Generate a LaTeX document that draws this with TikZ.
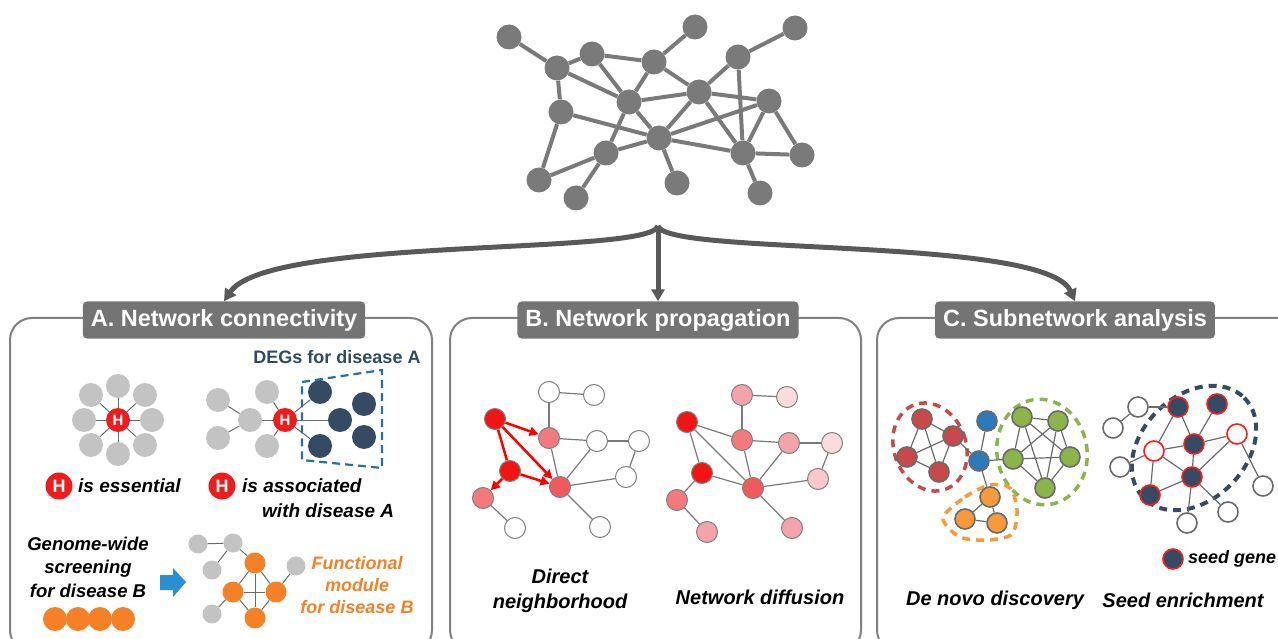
\documentclass[tikz,border=0pt]{standalone}
\usepackage{fontspec}
\setmainfont{Liberation Sans}
\usetikzlibrary{arrows.meta}
\definecolor{netgray}{HTML}{7A7A7A}
\definecolor{branchgray}{HTML}{595959}
\definecolor{framegray}{HTML}{808080}
\definecolor{titlegray}{HTML}{747474}
\definecolor{satgray}{HTML}{C3C3C3}
\definecolor{linkgray}{HTML}{6A6A6A}
\definecolor{navy}{HTML}{344B63}
\definecolor{hubred}{HTML}{EE1C1C}
\definecolor{degblue}{HTML}{2372A3}
\definecolor{degtext}{HTML}{2E4A66}
\definecolor{modorange}{HTML}{F58025}
\definecolor{arrowblue}{HTML}{2A8FD0}
\definecolor{pr1}{HTML}{F01414}
\definecolor{pr2}{HTML}{F05A5A}
\definecolor{pr3}{HTML}{F27A7C}
\definecolor{pr4}{HTML}{F4A3A8}
\definecolor{pr5}{HTML}{F7C8CC}
\definecolor{pr6}{HTML}{FADCDE}
\definecolor{clred}{HTML}{C9494B}
\definecolor{clblue}{HTML}{2B7BBA}
\definecolor{clgreen}{HTML}{8BB54A}
\definecolor{clorange}{HTML}{F59B3C}
\definecolor{seedred}{HTML}{FF1A1A}
\tikzset{
  net/.style={circle, fill=netgray, minimum size=25pt, inner sep=0pt},
  netlink/.style={draw=netgray, line width=4pt},
  branch/.style={draw=branchgray, line width=5pt, -{Triangle[length=12pt,width=13pt]}},
  panel/.style={draw=framegray, line width=2pt, rounded corners=22pt},
  ptitle/.style={fill=titlegray, rounded corners=4pt, text=white, inner xsep=8pt,
    minimum height=37pt, font=\fontsize{23.5}{28}\selectfont\bfseries},
  hub/.style={circle, fill=hubred, text=white, minimum size=24pt, inner sep=0pt,
    font=\fontsize{15}{15}\selectfont\bfseries},
  hubkey/.style={hub, minimum size=27pt, font=\fontsize{18}{18}\selectfont\bfseries},
  sat/.style={circle, fill=satgray, minimum size=24pt, inner sep=0pt},
  deg/.style={circle, fill=navy, minimum size=24pt, inner sep=0pt},
  small/.style={circle, fill=satgray, minimum size=19pt, inner sep=0pt},
  mod/.style={circle, fill=modorange, minimum size=21pt, inner sep=0pt},
  thinlink/.style={draw=linkgray, line width=1pt},
  degbox/.style={draw=degblue, line width=2.2pt, dash pattern=on 8pt off 5pt},
  lab/.style={font=\fontsize{19}{23.5}\selectfont\bfseries\itshape, inner sep=0pt},
  caption/.style={font=\fontsize{20}{25}\selectfont\bfseries\itshape, inner sep=0pt, align=center},
  bnode/.style={circle, draw=framegray, line width=1pt, minimum size=21pt, inner sep=0pt},
  blink/.style={draw=netgray, line width=1.2pt},
  push/.style={draw=red, line width=2.5pt, -{Triangle[length=9pt,width=9pt]}},
  cnode/.style={circle, draw=linkgray, line width=1.6pt, minimum size=20pt, inner sep=0pt},
  seed/.style={cnode, fill=navy, draw=seedred},
  cand/.style={cnode, fill=white, draw=seedred},
  clust/.style={line width=3.5pt, dash pattern=on 8pt off 6pt},
}
\begin{document}
\begin{tikzpicture}[x=1pt,y=-1pt]
  \useasboundingbox (0,0) rectangle (1278,639);
  \clip (0,0) rectangle (1278,639);

  % interactome on top
  \foreach \n/\x/\y in {1/509/37, 2/557/68, 3/592/54, 4/654/62, 5/695/27, 6/738/57,
      7/795/28, 8/561/112, 9/629/102, 10/699/92, 11/769/101, 12/659/138, 13/606/153,
      14/743/153, 15/802/155, 16/539/180, 17/576/198, 18/677/183, 19/760/193}
    \node[net] (t\n) at (\x,\y) {};
  \foreach \a/\b in {1/2,2/3,3/4,4/5,2/8,2/9,3/9,4/9,4/10,6/7,6/10,6/14,9/10,9/12,9/13,
      10/11,10/12,10/14,11/12,11/14,11/15,14/15,8/12,8/16,16/13,13/17,13/12,12/14,12/18,14/19}
    \draw[netlink] (t\a) -- (t\b);

  % panels
  \draw[panel] (10,318) rectangle (432,652);
  \draw[panel] (450,318) rectangle (861,652);
  \draw[panel] (877,318) rectangle (1300,652);
  \node[ptitle] (tA) at (224,320) {A. Network connectivity};
  \node[ptitle] (tB) at (658,320) {B. Network propagation};
  \node[ptitle] (tC) at (1075,320) {C. Subnetwork analysis};

  % branching arrows
  \coordinate (top) at (658,226);
  \draw[branch] (top) .. controls (650,256) and (268,236) .. (tA.north);
  \draw[branch] (top) -- (tB.north);
  \draw[branch] (top) .. controls (666,256) and (1046,236) .. (tC.north);

  % A: essential hub
  \node[hub] (H1) at (118,420) {H};
  \foreach \i/\x/\y in {1/118/386,2/145/395,3/152/420,4/145/445,5/118/454,6/91/445,7/84/420,8/91/395}{
    \node[sat] (e\i) at (\x,\y) {};
    \draw[thinlink] (H1) -- (e\i);
  }

  % A: hub linked to DEGs
  \node[hub] (H2) at (285,420) {H};
  \foreach \i/\x/\y in {1/218/400,2/218/438,3/250/420,4/267/392,5/267/446}
    \node[sat] (g\i) at (\x,\y) {};
  \foreach \i/\x/\y in {1/320/392,2/340/420,3/320/446,4/364/404,5/364/437}
    \node[deg] (d\i) at (\x,\y) {};
  \foreach \a/\b in {g1/g3,g2/g3,g3/H2,H2/g4,H2/g5,H2/d1,H2/d2,H2/d3}
    \draw[thinlink] (\a) -- (\b);
  \draw[degbox] (302,382) -- (382,370) -- (382,468) -- (302,460) -- cycle;
  \node[font=\fontsize{18}{18}\selectfont\bfseries, text=degtext] (degs) at (337,357) {DEGs for disease A};

  % A: key
  \node[hubkey] (k1) at (59,486) {H};
  \node[lab, anchor=west] (k1t) at (78,486) {is essential};
  \node[hubkey] (k2) at (222,486) {H};
  \node[lab, anchor=west] (k2t) at (242,486) {is associated};
  \node[lab, anchor=west] (k2u) at (262,511) {with disease A};

  % A: screening to module
  \node[lab, align=center, font=\fontsize{18.5}{23.5}\selectfont\bfseries\itshape] (scr) at (88,567)
    {Genome-wide\\screening\\for disease B};
  \foreach \i/\x in {1/55,2/78,3/100,4/123}
    \node[mod, minimum size=24pt] (hit\i) at (\x,619) {};
  \fill[arrowblue] (160,575) -- (173,575) -- (173,568) -- (186,582) -- (173,597) -- (173,590) -- (160,590) -- cycle;
  \foreach \i/\x/\y in {1/198/544,2/233/543,3/212/570,4/296/566,5/212/614}
    \node[small] (q\i) at (\x,\y) {};
  \foreach \i/\x/\y in {1/255/563,2/233/592,3/276/592,4/255/618}
    \node[mod] (m\i) at (\x,\y) {};
  \foreach \a/\b in {q1/q2,q2/m1,q3/q2,m1/m2,m1/m3,m1/m4,m2/m3,m2/m4,m3/m4,m3/q4,m2/q5}
    \draw[thinlink] (\a) -- (\b);
  \node[lab, align=center, text=modorange, font=\fontsize{18}{22}\selectfont\bfseries\itshape] (fm) at (357,585)
    {Functional\\module\\for disease B};

  % B: direct neighborhood
  \foreach \n/\x/\y/\c in {1/495/419/pr1, 2/549/438/pr3, 3/549/392/white, 4/594/395/white,
      5/597/441/white, 6/639/441/white, 7/626/477/white, 8/510/471/pr1, 9/560/487/pr2,
      10/483/498/pr3, 11/515/528/white, 12/600/527/white}
    \node[bnode, fill=\c] (a\n) at (\x,\y) {};
  \foreach \a/\b in {3/4,3/2,2/5,5/6,6/7,7/9,5/9,2/9,9/12,10/11}
    \draw[blink] (a\a) -- (a\b);
  \draw[push] (a1) -- (a2);
  \draw[push] (a1) -- (a9);
  \draw[draw=red, line width=2.5pt] (a1) -- (a8);
  \draw[push] (a8) -- (a9);
  \draw[push] (a8) -- (a10);
  \node[caption] (cap1) at (560,591) {Direct\\neighborhood};

  % B: network diffusion
  \foreach \n/\x/\y/\c in {1/687/422/pr1, 2/742/440/pr3, 3/742/395/pr4, 4/787/397/pr6,
      5/789/443/pr4, 6/832/443/pr6, 7/818/479/pr5, 8/702/473/pr1, 9/753/488/pr2,
      10/677/500/pr3, 11/707/532/pr4, 12/792/528/pr4}
    \node[bnode, fill=\c] (b\n) at (\x,\y) {};
  \foreach \a/\b in {3/4,3/2,2/5,5/6,6/7,7/9,5/9,2/9,9/12,10/11,1/2,1/9,1/8,8/9,8/10}
    \draw[blink] (b\a) -- (b\b);
  \node[caption] (cap2) at (760,597) {Network diffusion};

  % C: de novo modules
  \draw[clust, draw=clred] (930,447) ellipse [x radius=36, y radius=45, rotate=20];
  \draw[clust, draw=clgreen] (1042,452) ellipse [x radius=45, y radius=53, rotate=10];
  \draw[clust, draw=clorange] plot[smooth cycle] coordinates
    {(943,518) (965,497) (990,485) (1010,488) (1017,510) (1012,534) (988,540) (960,537)};
  \foreach \n/\x/\y in {1/922/419,2/953/436,3/907/457,4/939/472}
    \node[cnode, fill=clred] (r\n) at (\x,\y) {};
  \foreach \n/\x/\y in {1/987/421,2/979/461}
    \node[cnode, fill=clblue] (u\n) at (\x,\y) {};
  \foreach \n/\x/\y in {1/1022/417,2/1058/421,3/1013/459,4/1070/457,5/1045/488}
    \node[cnode, fill=clgreen] (v\n) at (\x,\y) {};
  \foreach \n/\x/\y in {1/990/497,2/965/519,3/997/523}
    \node[cnode, fill=clorange] (o\n) at (\x,\y) {};
  \foreach \a/\b in {r1/r2,r1/r3,r1/r4,r2/r3,r2/r4,r3/r4,r2/u2,u1/u2,u2/v3,u2/o1,
      v1/v2,v1/v3,v1/v4,v1/v5,v2/v3,v2/v4,v2/v5,v3/v4,v3/v5,v4/v5,o1/o2,o1/o3,o2/o3}
    \draw[thinlink, line width=1.2pt] (\a) -- (\b);
  \node[caption] (cap3) at (995,600) {De novo discovery};

  % C: seed enrichment
  \draw[clust, draw=navy, line width=4pt] (1194,448) ellipse [x radius=71, y radius=52, rotate=45];
  \foreach \n/\x/\y in {1/1138/407,2/1113/428,3/1120/467,4/1263/486,5/1228/512,6/1187/523}
    \node[cnode, fill=white] (w\n) at (\x,\y) {};
  \foreach \n/\x/\y in {1/1178/407,2/1217/404,3/1194/444,4/1192/477,5/1150/495}
    \node[seed] (s\n) at (\x,\y) {};
  \node[cand] (c1) at (1154,451) {};
  \node[cand] (c2) at (1237,434) {};
  \foreach \a/\b in {w1/w2,w1/s1,s1/c1,s1/s3,s2/s3,s3/c2,c1/s3,c1/w3,c1/s5,c1/s4,
      s3/s4,s4/s5,s4/c2,c2/w4,s4/w5,s4/w6}
    \draw[thinlink, line width=1.2pt] (\a) -- (\b);
  \node[seed] (key) at (1173,559) {};
  \node[lab, anchor=west, font=\fontsize{18}{18}\selectfont\bfseries\itshape] (keyt) at (1188,559) {seed gene};
  \node[caption] (cap4) at (1183,600) {Seed enrichment};
\end{tikzpicture}
\end{document}
